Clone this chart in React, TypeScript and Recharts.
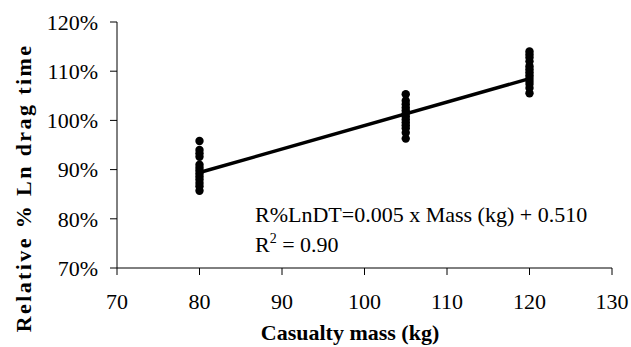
import React from 'react';
import { ScatterChart, Scatter, XAxis, YAxis, Customized } from 'recharts';

const massCategories = [80, 105, 120];
const values80 = [95.8, 94.0, 93.3, 92.6, 91.0, 90.4, 89.8, 89.2, 88.6, 88.0, 87.3, 86.6, 85.7];
const values105 = [105.3, 104.0, 103.3, 102.6, 102.0, 101.4, 100.8, 100.2, 99.6, 99.0, 98.4, 97.5, 96.3];
const values120 = [114.0, 113.4, 112.8, 112.0, 111.0, 110.4, 109.8, 109.2, 108.6, 108.0, 107.4, 106.6, 105.5];
const trendX = [80, 120];
const trendY = [89.4, 108.5];
const xTicks = [70, 80, 90, 100, 110, 120, 130];
const yTicks = [70, 80, 90, 100, 110, 120];
const equationText = 'R%LnDT=0.005 x Mass (kg) + 0.510';
const r2Label = '0.90';

const seriesValues = [values80, values105, values120];
const points = massCategories.flatMap((m, i) => seriesValues[i].map((v) => ({ x: m, y: v })));
const trend = trendX.map((x, i) => ({ x, y: trendY[i] }));

const FONT = '"Liberation Serif", "Times New Roman", serif';

const Dot = (props: any) => {
  const { cx, cy } = props;
  return <circle cx={cx} cy={cy} r={4.2} fill="#000" />;
};

const Titles = () => (
  <g fontFamily={FONT} fill="#000">
    <text x={23} y={188} transform="rotate(-90 23 188)" textAnchor="middle" dominantBaseline="central" fontSize={22} fontWeight="bold" letterSpacing={2.4}>
      Relative % Ln drag time
    </text>
    <text x={350} y={340} textAnchor="middle" fontSize={22} fontWeight="bold">
      Casualty mass (kg)
    </text>
    <text x={255} y={222} fontSize={22}>{equationText}</text>
    <text x={255} y={252} fontSize={22}>
      R<tspan dy={-9} fontSize={14}>2</tspan><tspan dy={9}> = {r2Label}</tspan>
    </text>
  </g>
);

export default function App() {
  return (
    <div style={{ position: 'absolute', left: 0, top: 0, background: '#fff' }}>
      <ScatterChart width={631} height={347} margin={{ top: 22, right: 19, left: 0, bottom: 0 }}>
        <XAxis
          type="number"
          dataKey="x"
          domain={[70, 130]}
          ticks={xTicks}
          interval={0}
          height={79}
          axisLine={{ stroke: '#000' }}
          tickLine={{ stroke: '#000' }}
          tickSize={7}
          tick={{ fill: '#000', fontSize: 22, fontFamily: FONT }}
          tickMargin={18}
        />
        <YAxis
          type="number"
          dataKey="y"
          domain={[70, 120]}
          ticks={yTicks}
          interval={0}
          width={117}
          axisLine={{ stroke: '#000' }}
          tickLine={{ stroke: '#000' }}
          tickSize={7}
          tickFormatter={(v: number) => `${v}%`}
          tick={{ fill: '#000', fontSize: 22, fontFamily: FONT }}
          tickMargin={12}
        />
        <Scatter data={points} shape={<Dot />} isAnimationActive={false} />
        <Scatter data={trend} shape={() => null} line={{ stroke: '#000', strokeWidth: 3.5 }} isAnimationActive={false} />
        <Customized component={Titles} />
      </ScatterChart>
    </div>
  );
}
